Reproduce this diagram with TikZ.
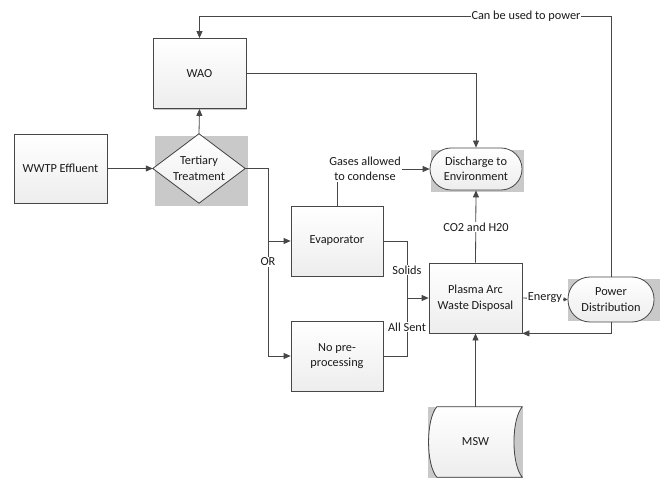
\documentclass[tikz,border=0pt]{standalone}
\usepackage{fontspec}
\setmainfont{Carlito}
\usetikzlibrary{arrows.meta,calc,shadows}
\definecolor{ln}{HTML}{474747}
\definecolor{sh}{HTML}{C9C9C9}
\definecolor{tx}{HTML}{1A1A1A}
\newcommand{\dfont}{\fontsize{12.3}{15.5}\selectfont}
\tikzset{
  x=1pt, y=-1pt,
  shadowed/.style={drop shadow={shadow xshift=1.2pt, shadow yshift=-1.2pt, opacity=0.45, fill=gray}},
  box/.style={draw=ln, line width=0.8pt, top color=white, bottom color=gray!14,
    minimum width=93pt, minimum height=70pt, inner sep=1pt, align=center,
    text=tx, font=\dfont, shadowed},
  term/.style={draw=ln, line width=0.8pt, top color=white, bottom color=gray!14,
    rounded corners=21pt, minimum width=92pt, minimum height=42pt, inner sep=1pt,
    align=center, text=tx, font=\dfont},
  plain/.style={inner sep=0pt, align=center, text=tx, font=\dfont},
  conn/.style={draw=ln, line width=0.8pt},
  arr/.style={conn, -{Triangle[length=7pt,width=6pt]}},
  sarr/.style={conn, -{Triangle[length=4pt,width=4pt]}},
  lbl/.style={fill=white, inner sep=1pt, align=center, text=tx, font=\dfont},
}
\begin{document}
\begin{tikzpicture}
\useasboundingbox (0,0) rectangle (661,478);
\fill[white] (0,0) rectangle (661,478);

% background shadow rectangles
\fill[sh] (155,136) rectangle (248,206);
\fill[sh] (431,150) rectangle (524,192);
\fill[sh] (568,279) rectangle (660,321);
\fill[sh] (428,407) rectangle (523,478);

% nodes
\node[box] (wao) at (199.5,73.5) {WAO};
\node[box, minimum height=69pt] (wwtp) at (60.5,168.5) {WWTP Effluent};
\node[plain, minimum width=92pt, minimum height=69pt] (tt) at (199,168.5) {};
\filldraw[draw=ln, line width=0.8pt, top color=white, bottom color=gray!14]
  (tt.north) -- (tt.east) -- (tt.south) -- (tt.west) -- cycle;
\node[plain] at (tt.center) {Tertiary\\Treatment};
\node[term] (dis) at (476,169) {Discharge to\\Environment};
\node[box, minimum width=92pt] (evap) at (337,241) {Evaporator};
\node[box, minimum width=92pt] (nop) at (337,356) {No pre-\\processing};
\node[box] (plasma) at (475.5,298) {Plasma Arc\\Waste Disposal};
\node[term, minimum width=86pt, minimum height=45pt, rounded corners=22pt] (pd) at (611,299.5) {Power\\Distribution};
\node[plain, minimum width=93pt, minimum height=70pt] (msw) at (475.5,442) {};
\filldraw[draw=ln, line width=0.8pt, top color=white, bottom color=gray!14]
  ($(msw.north west)+(8,0)$) -- (msw.north east)
  .. controls ($(msw.north east)+(-11,13)$) and ($(msw.south east)+(-11,-13)$) .. (msw.south east)
  -- ($(msw.south west)+(8,0)$)
  .. controls ($(msw.south west)+(-3,-13)$) and ($(msw.north west)+(-3,13)$) .. ($(msw.north west)+(8,0)$) -- cycle;
\node[plain] at (msw.center) {MSW};

% junction coordinates
\coordinate (orj) at (268,168.5);
\coordinate (sj) at (407,298);
\coordinate (topy) at (0,16);

% connectors
\draw[arr] (wwtp.east) -- (tt.west);
\draw[arr] (tt.north) -- (wao.south);
\draw[arr] (wao.east) -| (dis.north);
\draw[conn] (tt.east) -- (orj);
\draw[arr] (orj) |- (evap.west);
\draw[arr] (orj) |- (nop.west);
\node[lbl] (orl) at (268,262) {OR};
\draw[arr] (evap.north) |- (dis.west);
\node[lbl] (gas) at (365,169) {Gases allowed\\to condense};
\draw[arr] (plasma.north) -- (dis.south);
\node[lbl] (co2) at (476,227) {CO2 and H20};
\draw[conn] (evap.east) -| (sj);
\draw[conn] (nop.east) -| (sj);
\draw[arr] (sj) -- (plasma.west);
\node[lbl] (sol) at (407,270) {Solids};
\node[lbl] (all) at (407,327) {All Sent};
\draw[sarr] (plasma.east) -- (pd.west);
\node[lbl] (en) at (545,298) {Energy};
\draw[arr] (pd.north) -- (pd.north |- topy) -| (wao.north);
\node[lbl] (pow) at (526,16) {Can be used to power};
\draw[arr] (pd.south) |- (plasma.south east);
\draw[arr] (msw.north) -- (plasma.south);
\end{tikzpicture}
\end{document}
